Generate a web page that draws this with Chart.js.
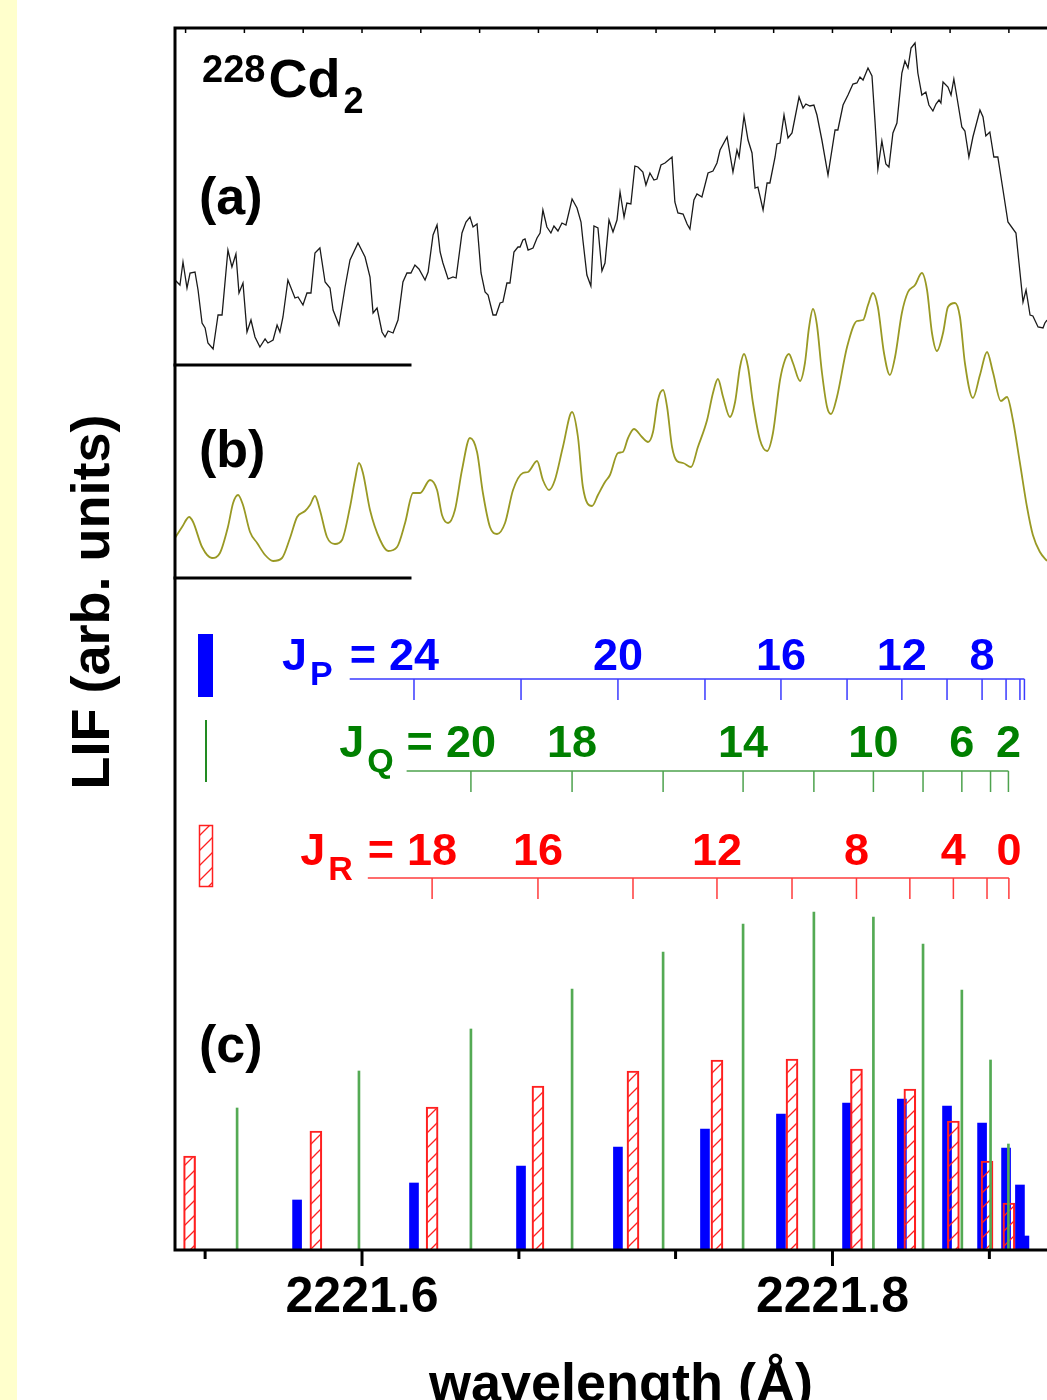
<!DOCTYPE html>
<html>
<head>
<meta charset="utf-8">
<title>228Cd2 LIF spectrum</title>
<script src="https://cdn.jsdelivr.net/npm/chart.js@4.4.1/dist/chart.umd.min.js"></script>
<style>
  html, body { margin: 0; padding: 0; background: #fff; overflow: hidden; }
  #wrap { width: 1047px; height: 1400px; overflow: hidden; position: relative; }
</style>
</head>
<body>
<div id="wrap"><canvas id="lifChart" width="1047" height="1400"></canvas></div>
<script>
// spektrum (a) - pomiar
const traceAWave = [2221.5205, 2221.5226, 2221.5239, 2221.5256, 2221.5269, 2221.5290, 2221.5303, 2221.5320, 2221.5333, 2221.5345,
  2221.5367, 2221.5388, 2221.5405, 2221.5430, 2221.5447, 2221.5464, 2221.5477, 2221.5494, 2221.5511, 2221.5528,
  2221.5545, 2221.5566, 2221.5588, 2221.5600, 2221.5622, 2221.5639, 2221.5651, 2221.5664, 2221.5685, 2221.5715,
  2221.5728, 2221.5749, 2221.5766, 2221.5783, 2221.5800, 2221.5821, 2221.5843, 2221.5864, 2221.5877, 2221.5902,
  2221.5928, 2221.5949, 2221.5983, 2221.6013, 2221.6034, 2221.6047, 2221.6064, 2221.6085, 2221.6098, 2221.6111,
  2221.6132, 2221.6153, 2221.6174, 2221.6191, 2221.6208, 2221.6225, 2221.6242, 2221.6268, 2221.6281, 2221.6302,
  2221.6319, 2221.6332, 2221.6344, 2221.6366, 2221.6387, 2221.6400, 2221.6425, 2221.6442, 2221.6459, 2221.6472,
  2221.6489, 2221.6506, 2221.6523, 2221.6536, 2221.6557, 2221.6570, 2221.6587, 2221.6599, 2221.6616, 2221.6629,
  2221.6646, 2221.6663, 2221.6672, 2221.6684, 2221.6693, 2221.6706, 2221.6727, 2221.6744, 2221.6757, 2221.6769,
  2221.6786, 2221.6803, 2221.6816, 2221.6833, 2221.6850, 2221.6867, 2221.6893, 2221.6914, 2221.6931, 2221.6939,
  2221.6956, 2221.6973, 2221.6986, 2221.7003, 2221.7020, 2221.7033, 2221.7050, 2221.7067, 2221.7084, 2221.7097,
  2221.7114, 2221.7126, 2221.7143, 2221.7160, 2221.7173, 2221.7194, 2221.7207, 2221.7224, 2221.7241, 2221.7254,
  2221.7271, 2221.7288, 2221.7318, 2221.7330, 2221.7343, 2221.7365, 2221.7382, 2221.7394, 2221.7411, 2221.7424,
  2221.7445, 2221.7471, 2221.7492, 2221.7509, 2221.7522, 2221.7552, 2221.7577, 2221.7594, 2221.7603, 2221.7624,
  2221.7641, 2221.7658, 2221.7671, 2221.7683, 2221.7705, 2221.7722, 2221.7734, 2221.7756, 2221.7764, 2221.7777,
  2221.7794, 2221.7811, 2221.7828, 2221.7858, 2221.7875, 2221.7887, 2221.7904, 2221.7921, 2221.7934, 2221.7955,
  2221.7981, 2221.8011, 2221.8023, 2221.8045, 2221.8066, 2221.8087, 2221.8104, 2221.8117, 2221.8130, 2221.8151,
  2221.8168, 2221.8181, 2221.8193, 2221.8210, 2221.8227, 2221.8240, 2221.8257, 2221.8274, 2221.8295, 2221.8308,
  2221.8321, 2221.8334, 2221.8351, 2221.8363, 2221.8380, 2221.8397, 2221.8410, 2221.8427, 2221.8440, 2221.8453,
  2221.8461, 2221.8470, 2221.8491, 2221.8504, 2221.8516, 2221.8529, 2221.8550, 2221.8563, 2221.8580, 2221.8597,
  2221.8627, 2221.8640, 2221.8652, 2221.8669, 2221.8686, 2221.8703, 2221.8725, 2221.8746, 2221.8780, 2221.8793,
  2221.8810, 2221.8823, 2221.8840, 2221.8852, 2221.8874, 2221.8895, 2221.8903, 2221.8912];
const traceAInt = [8.5, 8.0, 10.3, 7.7, 9.2, 9.3, 7.5, 4.2, 3.7, 2.2,
  1.6, 5.0, 5.0, 11.5, 9.8, 11.1, 7.2, 8.2, 3.3, 4.5,
  2.8, 1.8, 2.6, 2.2, 2.5, 4.0, 3.3, 4.8, 8.5, 6.7,
  6.8, 6.0, 7.2, 7.2, 11.2, 11.7, 8.3, 7.7, 5.5, 4.0,
  7.8, 10.5, 12.2, 10.8, 8.8, 5.2, 5.7, 3.3, 2.8, 3.4,
  3.2, 4.5, 8.3, 9.2, 9.2, 10.0, 9.6, 8.5, 9.3, 13.0,
  14.0, 11.3, 10.2, 8.6, 8.8, 8.7, 13.2, 14.3, 14.8, 13.8,
  14.1, 9.2, 7.3, 7.0, 5.0, 5.0, 6.2, 6.3, 8.2, 8.2,
  11.3, 11.8, 11.8, 12.5, 12.6, 11.5, 11.7, 12.7, 13.2, 15.5,
  13.8, 13.2, 13.9, 13.4, 14.2, 14.0, 16.6, 15.7, 14.3, 12.5,
  9.0, 7.9, 13.9, 13.7, 9.4, 10.2, 14.5, 13.3, 14.5, 17.3,
  14.8, 16.2, 16.1, 19.9, 19.8, 19.3, 18.0, 19.2, 18.5, 18.6,
  20.0, 20.2, 20.8, 16.3, 15.2, 15.1, 14.1, 13.6, 16.5, 17.1,
  16.8, 19.2, 19.4, 20.2, 21.5, 22.8, 19.3, 21.5, 20.8, 24.9,
  22.5, 21.2, 17.7, 17.8, 15.5, 18.2, 18.2, 20.8, 22.1, 22.2,
  25.0, 22.7, 23.2, 26.8, 25.7, 26.1, 25.9, 26.0, 25.0, 22.5,
  19.0, 23.5, 23.5, 26.0, 27.0, 28.1, 28.2, 28.8, 28.5, 29.7,
  28.9, 24.3, 19.6, 22.4, 20.1, 19.8, 23.2, 24.2, 29.2, 30.4,
  29.7, 31.7, 32.2, 29.2, 27.0, 27.3, 26.0, 25.4, 26.1, 26.5,
  26.2, 28.3, 27.8, 27.0, 28.6, 26.8, 23.8, 23.4, 20.8, 22.8,
  25.5, 24.8, 22.9, 23.3, 20.8, 20.8, 17.5, 14.3, 13.2, 10.2,
  6.3, 7.5, 5.0, 4.9, 3.8, 3.7, 4.2, 4.5];

// spektrum (b) - symulacja
const traceBWave = [2221.5205, 2221.5235, 2221.5265, 2221.5282, 2221.5320, 2221.5362, 2221.5396, 2221.5430, 2221.5452, 2221.5473,
  2221.5494, 2221.5524, 2221.5554, 2221.5588, 2221.5622, 2221.5660, 2221.5694, 2221.5724, 2221.5758, 2221.5779,
  2221.5800, 2221.5821, 2221.5851, 2221.5885, 2221.5915, 2221.5949, 2221.5970, 2221.5987, 2221.6004, 2221.6034,
  2221.6077, 2221.6111, 2221.6149, 2221.6183, 2221.6217, 2221.6247, 2221.6289, 2221.6319, 2221.6340, 2221.6366,
  2221.6395, 2221.6425, 2221.6459, 2221.6489, 2221.6514, 2221.6544, 2221.6574, 2221.6608, 2221.6642, 2221.6684,
  2221.6706, 2221.6744, 2221.6769, 2221.6795, 2221.6820, 2221.6854, 2221.6893, 2221.6918, 2221.6939, 2221.6978,
  2221.7003, 2221.7033, 2221.7054, 2221.7088, 2221.7109, 2221.7131, 2221.7156, 2221.7190, 2221.7216, 2221.7237,
  2221.7258, 2221.7280, 2221.7297, 2221.7318, 2221.7339, 2221.7365, 2221.7399, 2221.7428, 2221.7467, 2221.7492,
  2221.7513, 2221.7535, 2221.7564, 2221.7586, 2221.7607, 2221.7624, 2221.7641, 2221.7662, 2221.7692, 2221.7722,
  2221.7747, 2221.7777, 2221.7798, 2221.7815, 2221.7832, 2221.7862, 2221.7883, 2221.7900, 2221.7917, 2221.7934,
  2221.7955, 2221.7977, 2221.7994, 2221.8019, 2221.8062, 2221.8104, 2221.8130, 2221.8151, 2221.8172, 2221.8193,
  2221.8219, 2221.8244, 2221.8266, 2221.8295, 2221.8321, 2221.8351, 2221.8380, 2221.8402, 2221.8423, 2221.8444,
  2221.8470, 2221.8491, 2221.8521, 2221.8542, 2221.8563, 2221.8597, 2221.8627, 2221.8657, 2221.8682, 2221.8716,
  2221.8742, 2221.8767, 2221.8797, 2221.8827, 2221.8852, 2221.8882, 2221.8912];
const traceBInt = [4.0, 5.1, 6.1, 5.6, 3.1, 2.0, 2.5, 5.1, 7.5, 8.3,
  7.3, 4.6, 3.5, 2.3, 1.7, 2.0, 4.0, 6.1, 6.7, 7.3,
  8.2, 6.8, 4.1, 3.4, 3.8, 7.1, 9.8, 11.5, 10.5, 6.8,
  3.8, 2.7, 3.1, 5.5, 8.5, 8.5, 9.8, 8.8, 6.3, 5.5,
  6.8, 10.8, 14.0, 12.6, 8.5, 5.1, 4.4, 5.5, 8.8, 10.5,
  10.6, 11.7, 9.8, 8.8, 9.8, 13.1, 16.6, 14.1, 9.1, 7.2,
  8.3, 9.6, 10.3, 12.5, 12.6, 14.0, 14.9, 14.1, 13.6, 14.6,
  17.8, 18.8, 17.1, 13.1, 11.7, 11.5, 11.1, 13.1, 15.8, 18.5,
  19.9, 18.1, 16.1, 17.6, 21.1, 22.4, 21.1, 17.5, 13.8, 12.7,
  14.5, 19.8, 21.8, 22.4, 21.5, 19.7, 21.5, 25.0, 26.9, 25.3,
  20.6, 17.1, 16.4, 18.1, 23.1, 25.7, 25.8, 27.3, 28.5, 27.1,
  22.5, 20.3, 22.1, 26.5, 28.6, 29.3, 30.5, 28.8, 24.5, 22.7,
  24.5, 27.1, 27.5, 26.1, 21.5, 18.0, 20.3, 22.6, 20.6, 17.7,
  18.1, 15.8, 11.5, 7.1, 4.3, 2.6, 1.7];

// linie galezi P, Q, R (c)
const pJ = [26, 24, 22, 20, 18, 16, 14, 12, 10, 8, 6, 4, 2];
const pWave = [2221.5724, 2221.6221, 2221.6676, 2221.7088, 2221.7458, 2221.7781, 2221.8062, 2221.8295, 2221.8487, 2221.8636, 2221.8738, 2221.8797, 2221.8816];
const pInt = [5.0, 6.7, 8.4, 10.3, 12.1, 13.6, 14.7, 15.1, 14.4, 12.7, 10.2, 6.5, 1.4];
const qJ = [24, 22, 20, 18, 16, 14, 12, 10, 8, 6, 4, 2];
const qWave = [2221.5469, 2221.5987, 2221.6463, 2221.6893, 2221.7280, 2221.7620, 2221.7921, 2221.8174, 2221.8385, 2221.8550, 2221.8672, 2221.8748];
const qInt = [14.2, 17.9, 22.1, 26.1, 29.8, 32.6, 33.8, 33.3, 30.6, 26.0, 19.0, 10.6];
const rJ = [22, 20, 18, 16, 14, 12, 10, 8, 6, 4, 2, 0];
const rWave = [2221.5267, 2221.5804, 2221.6298, 2221.6748, 2221.7152, 2221.7509, 2221.7828, 2221.8102, 2221.8329, 2221.8514, 2221.8657, 2221.8750];
const rInt = [9.4, 11.9, 14.3, 16.4, 17.9, 19.0, 19.1, 18.1, 16.1, 12.9, 8.9, 4.7];

const pLabelJ = [24, 20, 16, 12, 8];
const qLabelJ = [20, 18, 14, 10, 6, 2];
const rLabelJ = [18, 16, 12, 8, 4, 0];

// osie
const xMin = 2221.5205, xMax = 2221.8912;
const xMajorTicks = [2221.6, 2221.8];
const xMinorTicks = [2221.5333, 2221.6667, 2221.7333, 2221.8667];
const xTopTicks = [2221.525, 2221.55, 2221.575, 2221.6, 2221.625, 2221.65, 2221.675, 2221.7,
  2221.725, 2221.75, 2221.775, 2221.8, 2221.825, 2221.85, 2221.875];

const offsetA = 88.5;   // linia bazowa panelu (a)
const offsetB = 67.2;   // linia bazowa panelu (b)
const baseEnd = 2221.6204;

const FONT = "'Liberation Sans', Arial, Helvetica, sans-serif";

const canvas = document.getElementById('lifChart');
const ctx = canvas.getContext('2d');

// wzor kreskowania dla galezi R
const hatch = (() => {
  const s = 15;
  const c = document.createElement('canvas');
  c.width = s; c.height = s;
  const g = c.getContext('2d');
  g.strokeStyle = '#ff2020';
  g.lineWidth = 1.3;
  g.beginPath();
  g.moveTo(-2, s + 2); g.lineTo(s + 2, -2);
  g.moveTo(-2, 2); g.lineTo(2, -2);
  g.moveTo(s - 2, s + 2); g.lineTo(s + 2, s - 2);
  g.stroke();
  return ctx.createPattern(c, 'repeat');
})();

const decor = {
  id: 'decor',
  beforeDraw(chart) {
    const c = chart.ctx;
    c.save();
    c.fillStyle = '#ffffff';
    c.fillRect(0, 0, chart.width, chart.height);
    c.fillStyle = '#ffffcc';
    c.fillRect(0, 0, 17, chart.height);
    c.restore();
  },
  afterDraw(chart) {
    const c = chart.ctx, a = chart.chartArea;
    const xs = chart.scales.x, ys = chart.scales.y;
    c.save();

    // ramka
    c.strokeStyle = '#000';
    c.lineWidth = 3;
    c.lineCap = 'square';
    c.beginPath();
    c.moveTo(a.right + 5, a.top); c.lineTo(a.left, a.top); c.lineTo(a.left, a.bottom); c.lineTo(a.right + 5, a.bottom);
    c.stroke();

    // linie bazowe (a) i (b)
    const bx = xs.getPixelForValue(baseEnd);
    [offsetA, offsetB].forEach(o => {
      const y = ys.getPixelForValue(o);
      c.beginPath(); c.moveTo(a.left, y); c.lineTo(bx, y); c.stroke();
    });

    // znaczniki osi x
    c.lineCap = 'butt';
    xMajorTicks.forEach(v => {
      const x = xs.getPixelForValue(v);
      c.beginPath(); c.moveTo(x, a.bottom); c.lineTo(x, a.bottom + 16); c.stroke();
    });
    xMinorTicks.forEach(v => {
      const x = xs.getPixelForValue(v);
      c.beginPath(); c.moveTo(x, a.bottom); c.lineTo(x, a.bottom + 9); c.stroke();
    });
    c.lineWidth = 1.5;
    xTopTicks.forEach(v => {
      const x = xs.getPixelForValue(v);
      c.beginPath(); c.moveTo(x, a.top); c.lineTo(x, a.top + 5); c.stroke();
    });

    // drabinki J
    const ladders = [
      { sub: 'P', txt: '#0000ff', line: '#3b3bff', waves: pWave, js: pJ, labels: pLabelJ, textY: 670, lineY: 679, gap: 17 },
      { sub: 'Q', txt: '#008000', line: '#4ea24e', waves: qWave, js: qJ, labels: qLabelJ, textY: 757, lineY: 771, gap: 13 },
      { sub: 'R', txt: '#ff0000', line: '#ff3c3c', waves: rWave, js: rJ, labels: rLabelJ, textY: 865, lineY: 878, gap: 15 }
    ];
    ladders.forEach(L => {
      c.font = 'bold 45px ' + FONT;
      c.fillStyle = L.txt;
      c.textBaseline = 'alphabetic';
      c.textAlign = 'center';
      let firstLeft = null;
      L.labels.forEach((j, k) => {
        const x = xs.getPixelForValue(L.waves[L.js.indexOf(j)]);
        const s = String(j);
        c.fillText(s, x, L.textY);
        if (k === 0) firstLeft = x - c.measureText(s).width / 2;
      });
      c.textAlign = 'left';
      const eqW = c.measureText('=').width;
      const eqLeft = firstLeft - 13 - eqW;
      c.fillText('=', eqLeft, L.textY);
      c.font = 'bold 34px ' + FONT;
      const subW = c.measureText(L.sub).width;
      const subLeft = eqLeft - L.gap - subW;
      c.fillText(L.sub, subLeft, L.textY + 15);
      c.font = 'bold 45px ' + FONT;
      const jW = c.measureText('J').width;
      c.fillText('J', subLeft - 3 - jW, L.textY);

      // linia z kreskami
      const px = L.waves.map(w => xs.getPixelForValue(w)).filter(x => x >= eqLeft);
      const xEnd = Math.max(...px);
      c.strokeStyle = L.line;
      c.lineWidth = 1.5;
      c.beginPath();
      c.moveTo(eqLeft, L.lineY); c.lineTo(xEnd, L.lineY);
      px.forEach(x => { c.moveTo(x, L.lineY); c.lineTo(x, L.lineY + 21); });
      c.stroke();
    });

    // symbole legendy
    c.fillStyle = '#0000ff';
    c.fillRect(198, 634, 15, 63);
    c.strokeStyle = '#228b22';
    c.lineWidth = 2;
    c.beginPath(); c.moveTo(206, 720); c.lineTo(206, 782); c.stroke();
    c.fillStyle = hatch;
    c.fillRect(199, 825, 13, 61);
    c.strokeStyle = '#ff2020';
    c.lineWidth = 1.5;
    c.strokeRect(199.5, 825.5, 13, 61);

    // napisy
    c.fillStyle = '#000';
    c.textAlign = 'left';
    c.textBaseline = 'alphabetic';
    c.font = 'bold 38px ' + FONT;
    c.fillText('228', 202, 82);
    const w228 = c.measureText('228').width;
    c.font = 'bold 54px ' + FONT;
    c.fillText('Cd', 202 + w228 + 3, 97);
    const wCd = c.measureText('Cd').width;
    c.font = 'bold 36px ' + FONT;
    c.fillText('2', 202 + w228 + 3 + wCd + 3, 113);

    c.font = 'bold 52px ' + FONT;
    c.fillText('(a)', 199, 214);
    c.fillText('(b)', 199, 467);
    c.fillText('(c)', 199, 1062);

    c.font = 'bold 54px ' + FONT;
    c.textAlign = 'center';
    c.fillText('wavelength (\u00C5)', 621, 1401);

    c.translate(109, 602);
    c.rotate(-Math.PI / 2);
    c.fillText('LIF (arb. units)', 0, 0);

    c.restore();
  }
};

const pts = (xsArr, ysArr, off) => xsArr.map((x, i) => ({ x: x, y: ysArr[i] + (off || 0) }));

new Chart(ctx, {
  type: 'bar',
  data: {
    datasets: [
      { type: 'bar', label: 'Q', data: pts(qWave, qInt), backgroundColor: 'rgb(84,170,84)', borderWidth: 0,
        barThickness: 2, grouped: false, order: 1 },
      { type: 'bar', label: 'R', data: pts(rWave, rInt), backgroundColor: hatch, borderColor: '#ff2020', borderWidth: 1.5,
        barThickness: 12, grouped: false, order: 2 },
      { type: 'bar', label: 'P', data: pts(pWave, pInt), backgroundColor: '#0000ff', borderWidth: 0,
        barThickness: 9, grouped: false, order: 3 },
      { type: 'line', label: 'a', data: pts(traceAWave, traceAInt, offsetA), borderColor: '#1a1a1a', borderWidth: 1.3,
        pointRadius: 0, tension: 0, order: 4 },
      { type: 'line', label: 'b', data: pts(traceBWave, traceBInt, offsetB), borderColor: '#999924', borderWidth: 1.8,
        pointRadius: 0, cubicInterpolationMode: 'monotone', order: 5 }
    ]
  },
  options: {
    responsive: false,
    animation: false,
    devicePixelRatio: 1,
    layout: { padding: { left: 175, top: 28, right: 0, bottom: 0 } },
    plugins: { legend: { display: false }, tooltip: { enabled: false } },
    scales: {
      x: {
        type: 'linear', min: xMin, max: xMax, offset: false,
        grid: { display: false, drawTicks: false },
        border: { display: false },
        afterBuildTicks: s => { s.ticks = xMajorTicks.map(v => ({ value: v })); },
        afterFit: s => { s.height = 150; },
        ticks: {
          autoSkip: false, maxRotation: 0, padding: 18, color: '#000',
          font: { family: FONT, weight: 'bold', size: 50 },
          callback: v => Number(v).toFixed(1)
        }
      },
      y: { type: 'linear', min: 0, max: 122.2, display: false }
    }
  },
  plugins: [decor]
});
</script>
</body>
</html>
